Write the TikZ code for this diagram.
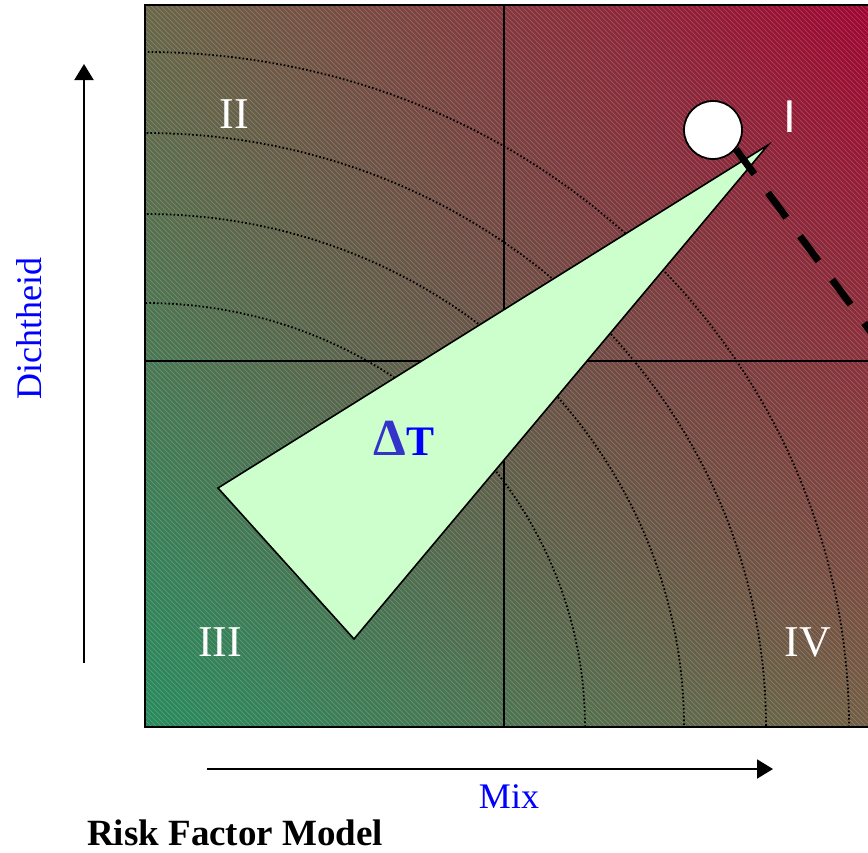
\documentclass[tikz,border=0pt]{standalone}
\usepackage{fontspec}
\setmainfont{Liberation Serif}
\newfontfamily\sansfnt{Liberation Sans}
\usetikzlibrary{arrows.meta,shadings}
\definecolor{cBL}{RGB}{40,138,94}
\definecolor{cTR}{RGB}{160,5,50}
\definecolor{cTL}{RGB}{106,102,72}
\definecolor{cBR}{RGB}{114,94,68}
\definecolor{trifill}{RGB}{204,255,204}
\definecolor{dtblue}{RGB}{51,51,204}
\begin{document}
\begin{tikzpicture}[x=1pt,y=-1pt,
  gridline/.style={draw=black,line width=1.6pt},
  hatch/.style={draw=white,line width=0.6pt,draw opacity=0.22},
  arcline/.style={draw=black,line width=1.8pt,dash pattern=on 1.6pt off 2.2pt},
  tri/.style={draw=black,line width=1.6pt,fill=trifill,line join=miter},
  axarrow/.style={draw=black,line width=2pt,-{Triangle[length=16pt,width=19pt]}},
  quadlbl/.style={text=white,font=\fontsize{44}{44}\selectfont,anchor=base,inner sep=0pt},
  axlbl/.style={text=blue,font=\fontsize{36}{36}\selectfont,inner sep=0pt},
  dashline/.style={draw=black,line width=7pt,dash pattern=on 31pt off 23pt}]
\useasboundingbox (0,0) rectangle (868,852);
\fill[white] (0,0) rectangle (868,852);
\coordinate (fNW) at (145,5);
\coordinate (fSE) at (874,727);
\coordinate (fBL) at (145,727);
% background field
\shade[lower left=cBL, upper right=cTR, upper left=cTL, lower right=cBR] (fNW) rectangle (fSE);
\begin{scope}
  \clip (fNW) rectangle (fSE);
  \foreach \x in {-580,-575,...,880}
    \draw[hatch] (\x,5) -- ++(722,722);
  \foreach \a/\b in {440/424,539/513,621/594,704/675}
    \draw[arcline] (fBL) ellipse [x radius=\a, y radius=\b];
\end{scope}
% quadrant grid and frame
\coordinate (vT) at (504,5);
\coordinate (vB) at (504,727);
\coordinate (hL) at (145,361);
\coordinate (hR) at (874,361);
\draw[gridline] (vT) -- (vB);
\draw[gridline] (hL) -- (hR);
\draw[gridline] (fNW) rectangle (fSE);
% wedge
\coordinate (tA) at (218,488);
\coordinate (tB) at (354,639);
\coordinate (tC) at (768,145);
\draw[tri] (tA) -- (tB) -- (tC) -- cycle;
\node[anchor=base,inner sep=0pt] (dT) at (404,455)
  {\fontsize{52}{52}\selectfont\bfseries\textcolor{dtblue}{Δ}\fontsize{42}{42}\selectfont\textcolor{blue}{T}};
% ball and dashed trajectory
\node[circle,draw=black,line width=1.8pt,fill=white,minimum size=58pt,inner sep=0pt] (ball) at (713,130) {};
\coordinate (dend) at (890,358);
\draw[dashline] (ball.-40) -- (dend);
% quadrant labels
\node[quadlbl,font=\sansfnt\fontsize{46}{46}\selectfont] (qI) at (790,132) {I};
\node[quadlbl] (qII) at (234,128) {II};
\node[quadlbl] (qIII) at (220,656) {III};
\node[quadlbl] (qIV) at (808,656) {IV};
% axes
\coordinate (ya0) at (84,663);
\coordinate (ya1) at (84,64);
\draw[axarrow] (ya0) -- (ya1);
\coordinate (xa0) at (207,769);
\coordinate (xa1) at (773,769);
\draw[axarrow] (xa0) -- (xa1);
\node[axlbl,anchor=base] (mix) at (509,808) {Mix};
\node[axlbl,anchor=base west,rotate=90] (dicht) at (41,400) {Dichtheid};
\node[anchor=base west,inner sep=0pt,font=\fontsize{37}{37}\selectfont\bfseries] (title) at (87,845) {Risk Factor Model};
\end{tikzpicture}
\end{document}
